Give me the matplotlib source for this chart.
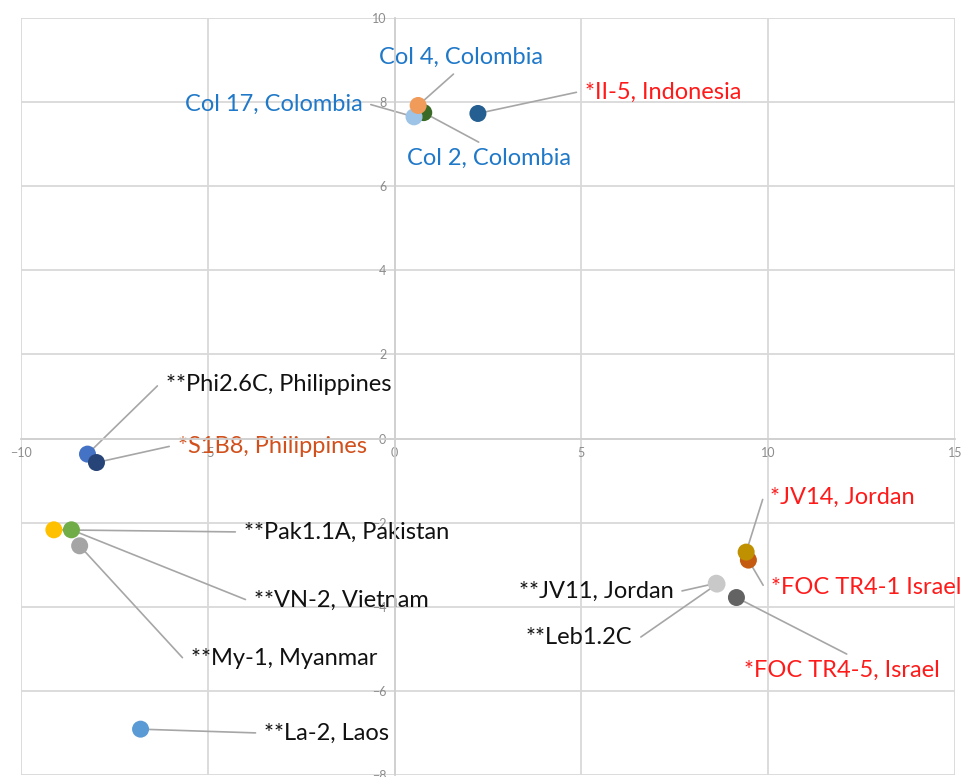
import matplotlib.pyplot as plt
import numpy as np

# data
names = ['Col 2, Colombia', 'Col 17, Colombia', 'Col 4, Colombia', '*II-5, Indonesia',
         '**Phi2.6C, Philippines', '*S1B8, Philippines', '**Pak1.1A, Pakistan',
         '**VN-2, Vietnam', '**My-1, Myanmar', '**La-2, Laos',
         '*FOC TR4-1 Israel', '*JV14, Jordan', '**JV11, Jordan', '**Leb1.2C',
         '*FOC TR4-5, Israel']
x_vals = [0.78, 0.52, 0.63, 2.23, -8.22, -7.98, -9.12, -8.65, -8.43, -6.80,
          9.47, 9.41, 8.61, 8.63, 9.15]
y_vals = [7.75, 7.65, 7.92, 7.73, -0.37, -0.57, -2.17, -2.17, -2.55, -6.91,
          -2.89, -2.70, -3.44, -3.46, -3.78]

# styling / layout
marker_colors = ['#3A6B26', '#9DC3E6', '#F19B5A', '#255E91', '#4472C4', '#264478',
                 '#FFC000', '#70AD47', '#A5A5A5', '#5B9BD5', '#C55A11', '#BF9000',
                 '#C9C9C9', '#C9C9C9', '#636363']
BLUE, RED, ORANGE, BLACK = '#1F78C8', '#FF1A1A', '#D2501C', '#111111'
label_colors = [BLUE, BLUE, BLUE, RED, BLACK, ORANGE, BLACK, BLACK, BLACK, BLACK,
                RED, RED, BLACK, BLACK, RED]
# text anchor, alignment, leader line start on the text box, leader tail direction
label_pos = [(2.52, 6.67), (-0.86, 7.95), (1.77, 9.07), (5.09, 8.24),
             (-6.13, 1.28), (-5.81, -0.18), (-4.04, -2.22), (-3.77, -3.84),
             (-5.46, -5.24), (-3.50, -7.00), (10.08, -3.53), (10.06, -1.39),
             (7.47, -3.63), (6.37, -4.74), (9.34, -5.50)]
label_ha = ['center', 'right', 'center', 'left', 'left', 'left', 'left', 'left',
            'left', 'left', 'left', 'left', 'right', 'right', 'left']
label_rel = [(0.5, 1.0), (1.0, 0.5), (0.5, 0.0), (0.0, 0.5), (0.0, 0.5), (0.0, 0.5),
             (0.0, 0.5), (0.0, 0.5), (0.0, 0.5), (0.0, 0.5), (0.0, 0.5), (0.0, 0.5),
             (1.0, 0.5), (1.0, 0.5), (0.58, 1.0)]
label_tail = [None, 0, None, 180, 180, 180, 180, 180, 180, 180, 180, 180, 0, 0, None]

plt.rcParams['font.family'] = ['Lato', 'DejaVu Sans']

fig = plt.figure(figsize=(9.64, 7.77), dpi=100)
ax = fig.add_axes([21 / 964, 2 / 777, 934 / 964, 757 / 777])

ax.set_xlim(-10, 15)
ax.set_ylim(-8, 10)
ax.set_xticks(np.arange(-10, 16, 5))
ax.set_yticks(np.arange(-8, 11, 2))
ax.grid(True, color='#D9D9D9', lw=1.3)
ax.set_axisbelow(True)

for s in ['top', 'right']:
    ax.spines[s].set_visible(False)
ax.spines['left'].set_position('zero')
ax.spines['bottom'].set_position('zero')
for s in ['left', 'bottom']:
    ax.spines[s].set_color('#D0D0D0')
    ax.spines[s].set_linewidth(1.3)
ax.tick_params(length=0, labelsize=9, labelcolor='#8C8C8C', pad=6)

for i in range(len(names)):
    if label_tail[i] is None:
        cs = 'arc3,rad=0'
    else:
        cs = f'arc,angleA={label_tail[i]},armA=7,angleB=0,armB=0,rad=0'
    ax.annotate(names[i], xy=(x_vals[i], y_vals[i]), xytext=label_pos[i],
                ha=label_ha[i], va='center', fontsize=17, color=label_colors[i],
                arrowprops=dict(arrowstyle='-', color='#A6A6A6', lw=1.2,
                                relpos=label_rel[i], shrinkA=4, shrinkB=0,
                                connectionstyle=cs),
                zorder=2)

ax.scatter(x_vals, y_vals, s=150, c=marker_colors, edgecolors='none', zorder=3)

fig.savefig('out.png', dpi=100)
